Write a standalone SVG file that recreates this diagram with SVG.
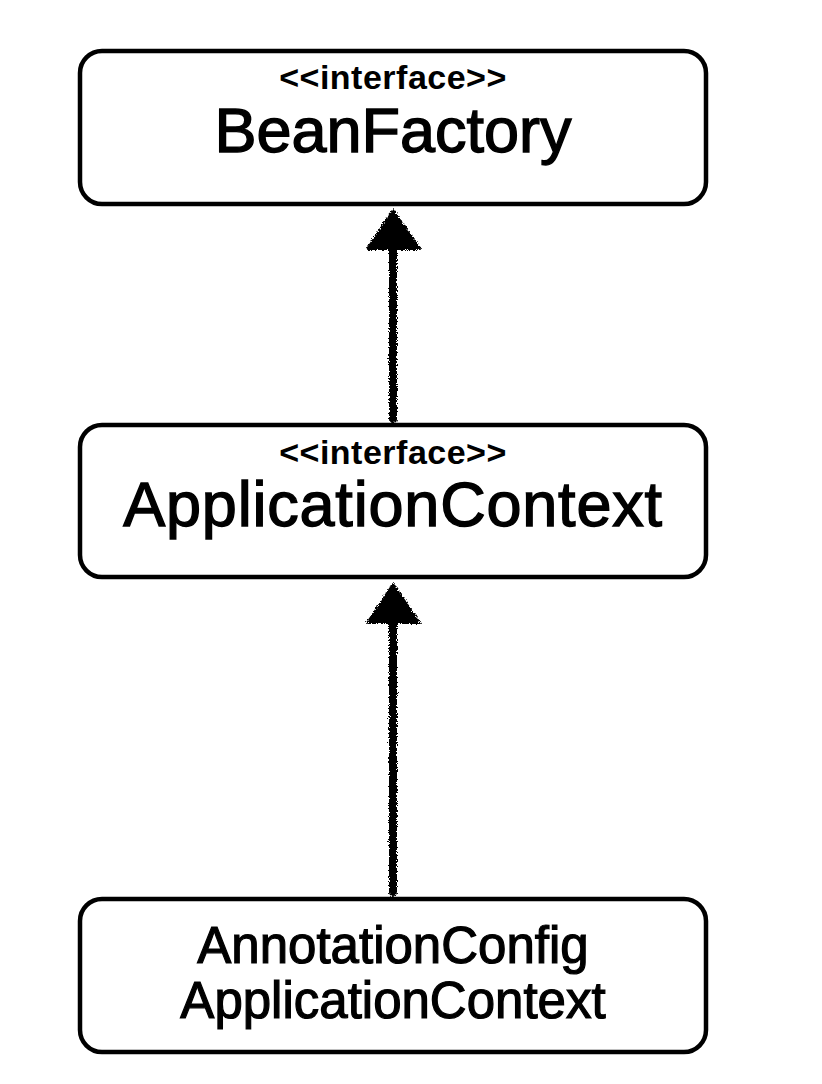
<svg xmlns="http://www.w3.org/2000/svg" width="822" height="1084" viewBox="0 0 822 1084">
<style>
.box{fill:#fff;stroke:#000;stroke-width:4.5}
.st{font-family:"Liberation Sans",Arial,sans-serif;font-weight:bold;font-size:34px;text-anchor:middle;fill:#000;letter-spacing:0.5px}
.nm{font-family:"Liberation Sans",Arial,sans-serif;font-size:63px;text-anchor:middle;fill:#000;stroke:#000;stroke-width:1.4}
.nm2{font-family:"Liberation Sans",Arial,sans-serif;font-size:51px;text-anchor:middle;fill:#000;stroke:#000;stroke-width:1.2}
.ln{stroke:#000;stroke-width:8;fill:none;stroke-linecap:round}
.hd{fill:#000;stroke:#000;stroke-width:2;stroke-linejoin:round}
</style>
<defs>
<filter id="rough" x="-20%" y="-5%" width="140%" height="110%">
<feTurbulence type="fractalNoise" baseFrequency="1.2" numOctaves="2" seed="3" result="n"/>
<feDisplacementMap in="SourceGraphic" in2="n" scale="5" xChannelSelector="R" yChannelSelector="G"/>
</filter>
</defs>
<g id="connectors" filter="url(#rough)">
<g id="edge1">
<line class="ln" x1="393" y1="419" x2="393" y2="244"/>
<polygon class="hd" points="393,210 420,249 367,249"/>
</g>
<g id="edge2">
<line class="ln" x1="393" y1="892" x2="393" y2="618"/>
<polygon class="hd" points="393,584 420,623 367,623"/>
</g>
</g>
<g id="beanfactory">
<rect class="box" x="80" y="51" width="626" height="153" rx="22"/>
<text class="st" x="393" y="89">&lt;&lt;interface&gt;&gt;</text>
<text class="nm" x="393" y="152">BeanFactory</text>
</g>
<g id="applicationcontext">
<rect class="box" x="80" y="425" width="626" height="152" rx="22"/>
<text class="st" x="393" y="464">&lt;&lt;interface&gt;&gt;</text>
<text class="nm" x="393" y="526" style="letter-spacing:0.8px">ApplicationContext</text>
</g>
<g id="annotationconfig">
<rect class="box" x="80" y="899" width="626" height="153" rx="22"/>
<text class="nm2" x="393" y="963">AnnotationConfig</text>
<text class="nm2" x="393" y="1018">ApplicationContext</text>
</g>
</svg>
